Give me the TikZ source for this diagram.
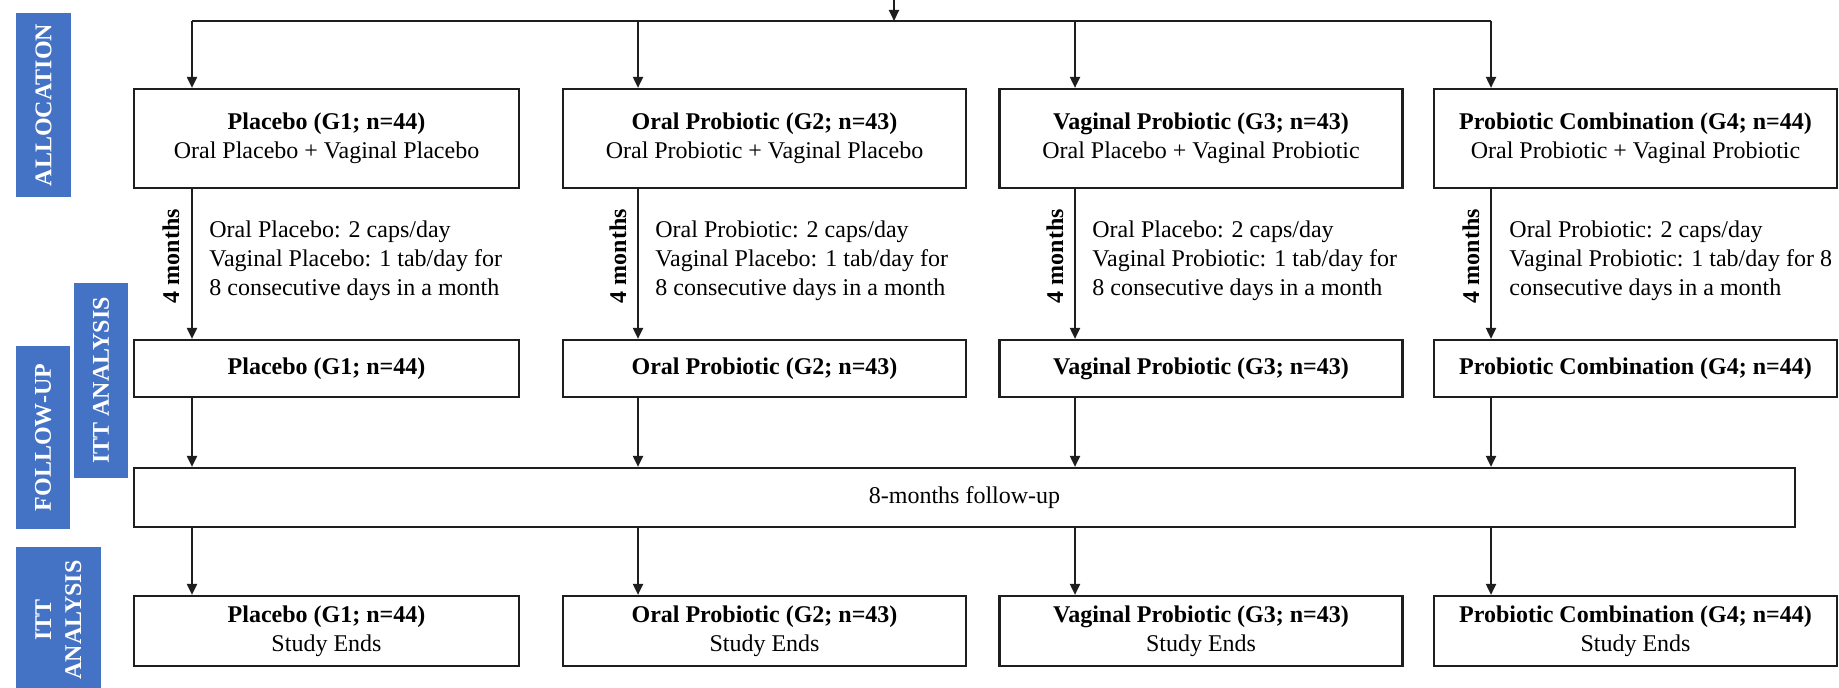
\documentclass[tikz,border=0pt]{standalone}
\usepackage{fontspec}
\setmainfont{Liberation Serif}
\usetikzlibrary{arrows.meta}
\definecolor{labblue}{RGB}{68,114,196}
\definecolor{ink}{RGB}{30,30,30}
\begin{document}
\begin{tikzpicture}[x=0.5pt,y=-0.5pt,
  font=\fontsize{12}{14.5}\selectfont,
  box/.style={draw=ink, line width=1.1pt, inner sep=0pt, align=center},
  wbox/.style={box, minimum width=201.5pt},
  nbox/.style={box, minimum width=192.5pt},
  rowa/.style={minimum height=49.5pt},
  rowb/.style={minimum height=28.5pt},
  rowd/.style={minimum height=35pt},
  arr/.style={draw=ink, line width=1pt, -{Triangle[length=5.5pt,width=5pt]}},
  conn/.style={draw=ink, line width=1pt},
  side/.style={anchor=west, align=left, inner sep=0pt},
  dur/.style={rotate=90, font=\fontsize{12}{14.5}\selectfont\bfseries, inner sep=0pt},
  lab/.style={fill=labblue, text=white, rotate=90, inner sep=0pt, align=center,
              font=\fontsize{12}{15}\selectfont\bfseries}]
\useasboundingbox (0,0) rectangle (1839,688);

% section labels
\node[lab, minimum width=92pt, minimum height=27.5pt] (lalloc) at (43.5,105) {ALLOCATION};
\node[lab, minimum width=91.5pt, minimum height=27pt] (lfollow) at (43,437.5) {FOLLOW-UP};
\node[lab, minimum width=97.5pt, minimum height=27pt] (litt) at (101,380.5) {ITT ANALYSIS};
\node[lab, minimum width=73pt, minimum height=42.5pt] (litt2) at (58.5,620) {ITT\\ANALYSIS};

% row 1
\node[nbox, rowa] (b1) at (326.5,138.5) {\textbf{Placebo (G1; n=44)}\\Oral Placebo + Vaginal Placebo};
\node[wbox, rowa] (b2) at (764.5,138.5) {\textbf{Oral Probiotic (G2; n=43)}\\Oral Probiotic + Vaginal Placebo};
\node[wbox, rowa] (b3) at (1201,138.5) {\textbf{Vaginal Probiotic (G3; n=43)}\\Oral Placebo + Vaginal Probiotic};
\node[wbox, rowa] (b4) at (1635.5,138.5) {\textbf{Probiotic Combination (G4; n=44)}\\Oral Probiotic + Vaginal Probiotic};

% row 2
\node[nbox, rowb] (m1) at (326.5,368.5) {\textbf{Placebo (G1; n=44)}};
\node[wbox, rowb] (m2) at (764.5,368.5) {\textbf{Oral Probiotic (G2; n=43)}};
\node[wbox, rowb] (m3) at (1201,368.5) {\textbf{Vaginal Probiotic (G3; n=43)}};
\node[wbox, rowb] (m4) at (1635.5,368.5) {\textbf{Probiotic Combination (G4; n=44)}};

% follow-up
\node[box, minimum width=830.5pt, minimum height=29.5pt] (fu) at (964.5,497.5) {8-months follow-up};

% row 4
\node[nbox, rowd] (e1) at (326.5,631) {\textbf{Placebo (G1; n=44)}\\Study Ends};
\node[wbox, rowd] (e2) at (764.5,631) {\textbf{Oral Probiotic (G2; n=43)}\\Study Ends};
\node[wbox, rowd] (e3) at (1201,631) {\textbf{Vaginal Probiotic (G3; n=43)}\\Study Ends};
\node[wbox, rowd] (e4) at (1635.5,631) {\textbf{Probiotic Combination (G4; n=44)}\\Study Ends};

% top distribution line
\coordinate (a1) at (192,21);
\coordinate (a2) at (638,21);
\coordinate (a3) at (1075,21);
\coordinate (a4) at (1491,21);
\coordinate (tin) at (894,-4);
\coordinate (tj) at (894,21);
\draw[conn] (a1) -- (a4);
\draw[arr] (tin) -- (tj);

\foreach \i in {1,2,3,4}{
  \draw[arr] (a\i) -- (b\i.north -| a\i);
  \draw[arr] (b\i.south -| a\i) -- (m\i.north -| a\i);
  \draw[arr] (m\i.south -| a\i) -- (fu.north -| a\i);
  \draw[arr] (fu.south -| a\i) -- (e\i.north -| a\i);
}

% durations
\node[dur] (d1) at (171,256) {4 months};
\node[dur] (d2) at (618,256) {4 months};
\node[dur] (d3) at (1055,256) {4 months};
\node[dur] (d4) at (1471,256) {4 months};

% regimens
\node[side] (s1) at (209,261) {Oral Placebo: 2 caps/day\\Vaginal Placebo: 1 tab/day for\\8 consecutive days in a month};
\node[side] (s2) at (655,261) {Oral Probiotic: 2 caps/day\\Vaginal Placebo: 1 tab/day for\\8 consecutive days in a month};
\node[side] (s3) at (1092,261) {Oral Placebo: 2 caps/day\\Vaginal Probiotic: 1 tab/day for\\8 consecutive days in a month};
\node[side] (s4) at (1509,261) {Oral Probiotic: 2 caps/day\\Vaginal Probiotic: 1 tab/day for 8\\consecutive days in a month};
\end{tikzpicture}
\end{document}
